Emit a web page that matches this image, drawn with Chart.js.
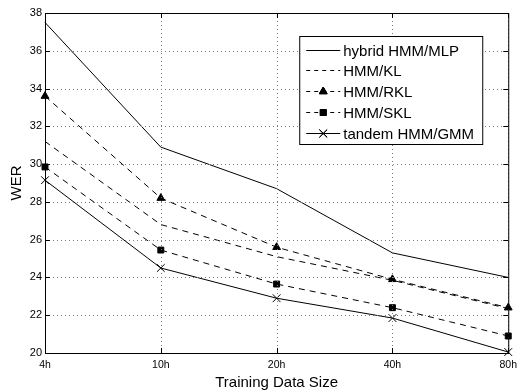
<!DOCTYPE html>
<html>
<head>
<meta charset="utf-8">
<script src="https://cdn.jsdelivr.net/npm/chart.js@4"></script>
<style>
  body { margin: 0; background: #fff; }
</style>
</head>
<body>
<canvas id="chart" width="523" height="390"></canvas>
<script>
// données
const categories = ["4h", "10h", "20h", "40h", "80h"];
const hybridMLP = [37.5, 30.9, 28.7, 25.3, 24.0];
const hmmKL = [31.2, 26.8, 25.1, 23.85, 22.35];
const hmmRKL = [33.6, 28.2, 25.6, 23.9, 22.4];
const hmmSKL = [29.85, 25.45, 23.65, 22.4, 20.9];
const tandemGMM = [29.15, 24.5, 22.9, 21.85, 20.05];
const yTicks = [20, 22, 24, 26, 28, 30, 32, 34, 36, 38];

const FONT = "'Liberation Sans', Arial, Helvetica, sans-serif";

function serie(label, data, dash, style, radius) {
  return {
    label: label,
    data: data,
    borderColor: "#000",
    backgroundColor: "#000",
    borderWidth: 1,
    borderDash: dash,
    fill: false,
    pointStyle: style,
    pointRadius: style ? radius : 0,
    pointBorderWidth: 1,
    pointBorderColor: "#000",
    pointBackgroundColor: "#000",
    tension: 0,
    clip: false,
  };
}

// grille pointillée + cadre + graduations internes (style MATLAB)
const boxPlugin = {
  id: "box",
  afterDraw(chart) {
    const { ctx, chartArea: a, scales } = chart;
    ctx.save();
    ctx.strokeStyle = "#7a7a7a";
    ctx.lineWidth = 1;
    ctx.setLineDash([1, 3]);
    ctx.beginPath();
    categories.forEach((c, i) => {
      const x = Math.round(scales.x.getPixelForValue(i)) + 0.5;
      ctx.moveTo(x, a.top); ctx.lineTo(x, a.bottom);
    });
    yTicks.forEach(v => {
      const y = Math.round(scales.y.getPixelForValue(v)) + 0.5;
      ctx.moveTo(a.left, y); ctx.lineTo(a.right, y);
    });
    ctx.stroke();

    ctx.strokeStyle = "#000";
    ctx.setLineDash([]);
    ctx.strokeRect(a.left + 0.5, a.top + 0.5, a.right - a.left, a.bottom - a.top);
    ctx.beginPath();
    categories.forEach((c, i) => {
      const x = Math.round(scales.x.getPixelForValue(i)) + 0.5;
      ctx.moveTo(x, a.bottom); ctx.lineTo(x, a.bottom - 5);
      ctx.moveTo(x, a.top); ctx.lineTo(x, a.top + 5);
    });
    yTicks.forEach(v => {
      const y = Math.round(scales.y.getPixelForValue(v)) + 0.5;
      ctx.moveTo(a.left, y); ctx.lineTo(a.left + 5, y);
      ctx.moveTo(a.right, y); ctx.lineTo(a.right - 5, y);
    });
    ctx.stroke();
    ctx.restore();
  }
};

// légende encadrée
const legendPlugin = {
  id: "boxLegend",
  afterDraw(chart) {
    const { ctx, chartArea: a } = chart;
    const x0 = a.right - 209, y0 = a.top + 23, w = 183, h = 108;
    ctx.save();
    ctx.fillStyle = "#fff";
    ctx.fillRect(x0, y0, w, h);
    ctx.strokeStyle = "#000";
    ctx.lineWidth = 1;
    ctx.strokeRect(x0 + 0.5, y0 + 0.5, w, h);
    ctx.font = "15px " + FONT;
    ctx.textBaseline = "middle";
    chart.data.datasets.forEach((ds, i) => {
      const y = Math.round(y0 + 13.5 + i * 20.9) + 0.5;
      ctx.strokeStyle = "#000";
      ctx.setLineDash(ds.borderDash.length ? [4, 4] : []);
      ctx.beginPath();
      ctx.moveTo(x0 + 7, y);
      ctx.lineTo(x0 + 41, y);
      ctx.stroke();
      ctx.setLineDash([]);
      if (ds.pointStyle) {
        Chart.helpers.drawPoint(ctx, {
          pointStyle: ds.pointStyle, radius: ds.pointRadius, rotation: 0, borderWidth: 1
        }, x0 + 24, y);
        ctx.fillStyle = "#000";
        if (ds.pointStyle !== "crossRot") ctx.fill();
        ctx.stroke();
      }
      ctx.fillStyle = "#000";
      ctx.fillText(ds.label, x0 + 44, y + 1);
    });
    ctx.restore();
  }
};

new Chart(document.getElementById("chart"), {
  type: "line",
  data: {
    labels: categories,
    datasets: [
      serie("hybrid HMM/MLP", hybridMLP, [], false, 0),
      serie("HMM/KL", hmmKL, [6, 5], false, 0),
      serie("HMM/RKL", hmmRKL, [6, 5], "triangle", 4.5),
      serie("HMM/SKL", hmmSKL, [6, 5], "rect", 4.2),
      serie("tandem HMM/GMM", tandemGMM, [], "crossRot", 5.5),
    ],
  },
  options: {
    responsive: false,
    devicePixelRatio: 1,
    animation: false,
    layout: { padding: { top: 13, right: 8, left: 0, bottom: 0 } },
    plugins: { legend: { display: false }, tooltip: { enabled: false } },
    scales: {
      x: {
        type: "category",
        offset: false,
        grid: { display: false, drawTicks: false, offset: false },
        border: { display: false },
        ticks: { color: "#000", font: { family: FONT, size: 10.5 }, padding: 6, maxRotation: 0 },
        title: { display: true, text: "Training Data Size", color: "#000",
                 font: { family: FONT, size: 15, lineHeight: 1 }, padding: 0 },
        afterFit(scale) { scale.height = 37; },
      },
      y: {
        min: 20,
        max: 38,
        grid: { display: false, drawTicks: false },
        border: { display: false },
        ticks: { stepSize: 2, color: "#000", font: { family: FONT, size: 11 }, padding: 3 },
        title: { display: true, text: "WER", color: "#000",
                 font: { family: FONT, size: 15, lineHeight: 1 }, padding: { top: 9, bottom: 0 } },
        afterFit(scale) { scale.width = 45; },
      },
    },
  },
  plugins: [boxPlugin, legendPlugin],
});
</script>
</body>
</html>
